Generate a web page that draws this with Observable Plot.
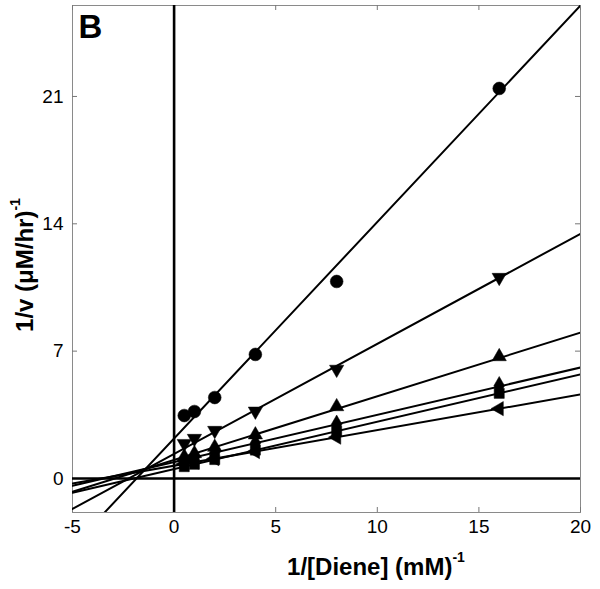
<!DOCTYPE html>
<html><head><meta charset="utf-8">
<script src="https://cdn.jsdelivr.net/npm/d3@7"></script>
<script src="https://cdn.jsdelivr.net/npm/@observablehq/plot@0.6"></script>
<style>body{margin:0;background:#fff;}</style>
</head><body><div id="chart"></div>
<script>
// ---- data ----
const xValues = [0.5, 1, 2, 4, 8, 16];            // 1/[Diene] (mM^-1)
const circleY   = [3.46, 3.68, 4.45, 6.82, 10.83, 21.44];
const triDownY  = [1.92, 2.20, 2.64, 3.70, 6.00, 11.05];
const triUpY    = [1.20, 1.37, 1.72, 2.40, 3.95, 6.70];
const diamondY  = [1.03, 1.16, 1.42, 1.94, 2.98, 5.10];
const squareY   = [0.65, 0.78, 1.04, 1.56, 2.60, 4.68];
const triLeftY  = [0.80, 0.90, 1.09, 1.48, 2.27, 3.84];
const seriesNames = ["circle", "triDown", "triUp", "diamond", "square", "triLeft"];
const seriesY = [circleY, triDownY, triUpY, diamondY, squareY, triLeftY];
// fitted Lineweaver-Burk lines (slope, intercept)
const slopes     = [1.19, 0.605, 0.35, 0.26, 0.26, 0.196];
const intercepts = [2.20, 1.35, 1.02, 0.90, 0.52, 0.70];
const xTicks = [-5, 0, 5, 10, 15, 20];
const yTicks = [0, 7, 14, 21];
const xDomain = [-5, 20];
const yDomain = [-1.87, 26];

// ---- symbols ----
const sqrt3 = Math.sqrt(3);
const triDownSym = {draw(c, size) { const y = Math.sqrt(size / (sqrt3 * 3)); c.moveTo(0, 2 * y); c.lineTo(-sqrt3 * y, -y); c.lineTo(sqrt3 * y, -y); c.closePath(); }};
const triLeftSym = {draw(c, size) { const y = Math.sqrt(size / (sqrt3 * 3)); c.moveTo(-2 * y, 0); c.lineTo(y, -sqrt3 * y); c.lineTo(y, sqrt3 * y); c.closePath(); }};
const symbols = ["circle", triDownSym, "triangle", "diamond", "square", triLeftSym];
const radii = [6.4, 5.3, 5.3, 5.6, 5.7, 5.3];

const W = 600, H = 589;
const mL = 72, mR = 20, mT = 5, mB = 77;
const innerW = W - mL - mR, innerH = H - mT - mB;

const marks = [Plot.frame({stroke: "#8a8a8a", strokeWidth: 1})];
// inward ticks on all four sides
marks.push(Plot.tickX(xTicks, {x: d => d, stroke: "#777", insetTop: innerH - 5}));
marks.push(Plot.tickX(xTicks, {x: d => d, stroke: "#777", insetBottom: innerH - 5}));
marks.push(Plot.tickY(yTicks, {y: d => d, stroke: "#777", insetRight: innerW - 5}));
marks.push(Plot.tickY(yTicks, {y: d => d, stroke: "#777", insetLeft: innerW - 5}));
marks.push(Plot.ruleX([0], {stroke: "black", strokeWidth: 2.6}));
marks.push(Plot.ruleY([0], {stroke: "black", strokeWidth: 2.6}));
seriesNames.forEach((name, i) => {
  const lineData = xDomain.map(x => ({x, y: intercepts[i] + slopes[i] * x}));
  marks.push(Plot.line(lineData, {x: "x", y: "y", stroke: "black", strokeWidth: 2, clip: true}));
});
seriesNames.forEach((name, i) => {
  const pts = xValues.map((x, j) => ({x, y: seriesY[i][j], s: name}));
  marks.push(Plot.dot(pts, {x: "x", y: "y", symbol: symbols[i], r: radii[i], fill: "black", stroke: "black", strokeWidth: 0.5}));
});
marks.push(Plot.axisX(xTicks, {tickSize: 0, tickPadding: 7, label: null, fontSize: 19, tickFormat: d => String(d)}));
marks.push(Plot.axisY(yTicks, {tickSize: 0, tickPadding: 9, label: null, fontSize: 19, tickFormat: d => String(d)}));
marks.push(Plot.text(["B"], {frameAnchor: "top-left", dx: 6, dy: 9, fontSize: 33, fontWeight: "bold", lineAnchor: "top", textAnchor: "start"}));

const chart = Plot.plot({
  width: W, height: H,
  marginLeft: mL, marginRight: mR, marginTop: mT, marginBottom: mB,
  x: {domain: xDomain},
  y: {domain: yDomain},
  style: {fontFamily: "'Liberation Sans', Arial, sans-serif", fontSize: "19px", color: "black", background: "white"},
  marks
});
document.getElementById("chart").appendChild(chart);

const svg = d3.select(chart);
const ff = "'Liberation Sans', Arial, sans-serif";
const xt = svg.append("text").attr("x", 376).attr("y", 575).attr("text-anchor", "middle")
  .attr("font-family", ff).attr("font-weight", "bold").attr("font-size", 24).attr("fill", "black");
xt.append("tspan").text("1/[Diene] (mM)");
xt.append("tspan").attr("font-size", 14).attr("dy", -13).text("-1");
const yt = svg.append("text").attr("transform", "translate(33,265) rotate(-90)").attr("text-anchor", "middle")
  .attr("font-family", ff).attr("font-weight", "bold").attr("font-size", 24).attr("fill", "black");
yt.append("tspan").text("1/v (μM/hr)");
yt.append("tspan").attr("font-size", 14).attr("dy", -13).text("-1");
</script></body></html>
